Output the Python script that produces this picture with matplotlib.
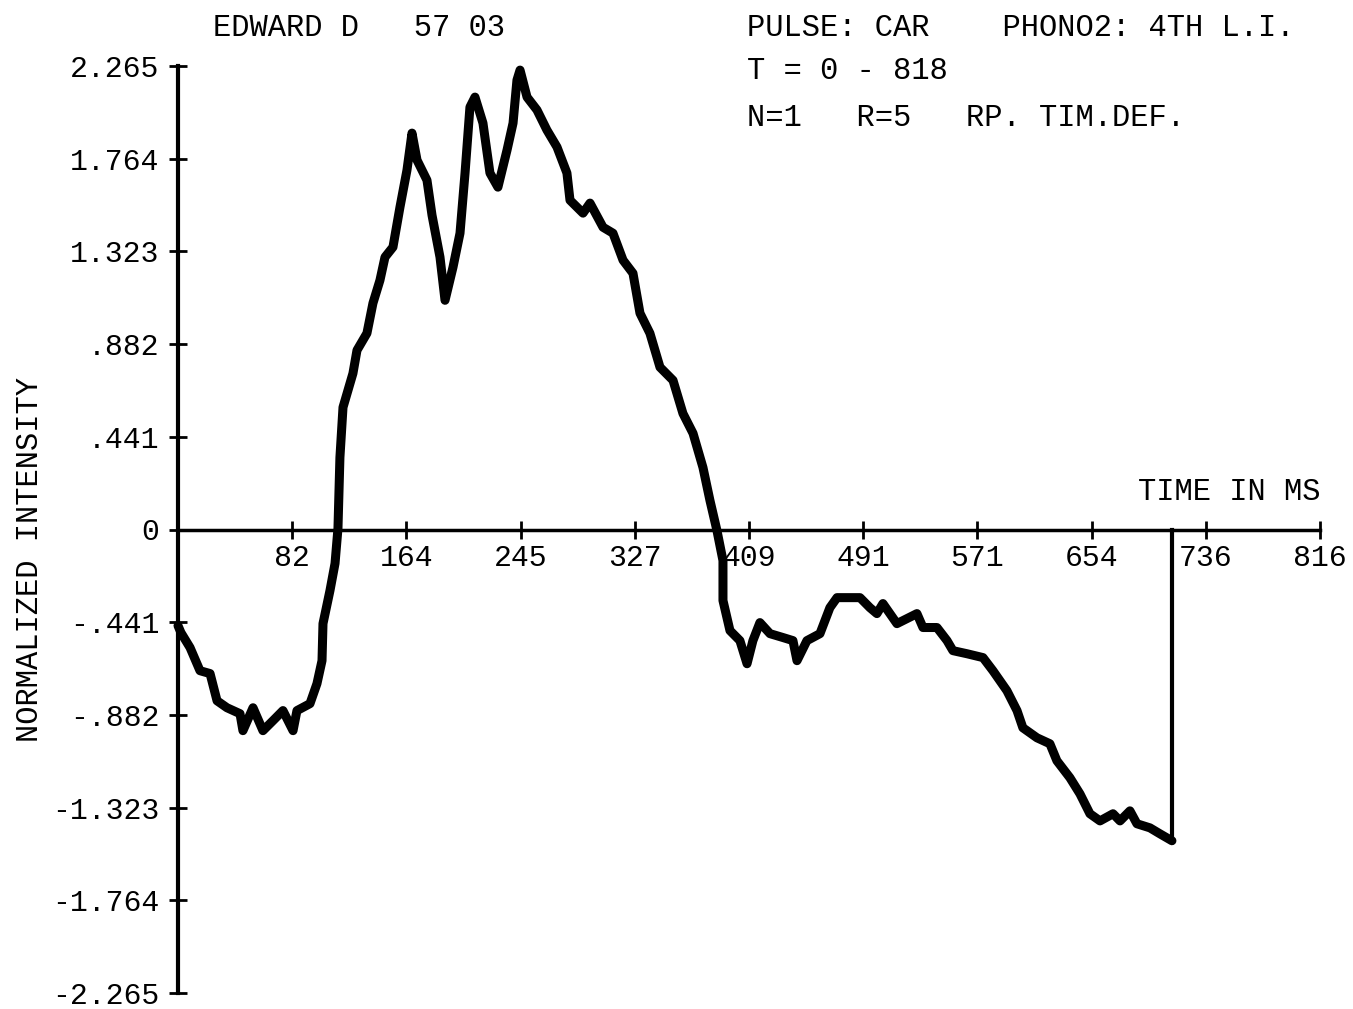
import numpy as np
import matplotlib
matplotlib.use('Agg')
import matplotlib.pyplot as plt

plt.rcParams['font.family'] = ['Liberation Mono', 'DejaVu Sans Mono']

# Trace (time in ms, normalized intensity)
time_ms = [0, 2.1, 8.6, 15.7, 22.9, 27.9, 35.0, 44.3, 46.4, 53.6, 60.7, 67.9, 75.0,
           82.2, 85.0, 94.3, 99.3, 102.9, 103.6, 108.6, 112.2, 114.3, 115.7, 117.9,
           125.0, 127.9, 135.0, 139.3, 144.3, 147.9, 153.6, 158.6, 163.6, 167.2,
           170.8, 177.9, 181.5, 187.2, 190.8, 196.5, 201.5, 205.1, 208.6, 212.2,
           217.9, 222.9, 228.6, 235.1, 239.4, 242.2, 244.4, 249.4, 256.5, 263.6,
           270.8, 277.9, 280.1, 289.4, 294.4, 303.7, 310.8, 318.0, 325.1, 330.1,
           337.2, 344.4, 353.7, 360.8, 368.0, 375.1, 380.1, 385.1, 389.4, 389.4,
           394.4, 401.5, 406.6, 410.8, 415.8, 423.0, 432.3, 439.4, 442.3, 449.4,
           458.7, 465.8, 470.9, 487.3, 494.4, 499.4, 503.7, 508.7, 513.7, 528.0,
           532.3, 542.3, 549.5, 553.7, 563.7, 575.2, 582.3, 592.3, 599.5, 603.7,
           613.8, 623.0, 628.0, 637.3, 644.5, 651.6, 658.8, 668.1, 673.1, 680.2,
           685.2, 694.5, 701.6, 710.2]
intensity = [-0.470, -0.504, -0.577, -0.690, -0.704, -0.837, -0.871, -0.900, -0.983,
             -0.871, -0.983, -0.934, -0.885, -0.983, -0.885, -0.851, -0.753, -0.641,
             -0.460, -0.298, -0.166, 0.005, 0.352, 0.597, 0.763, 0.876, 0.959, 1.106,
             1.218, 1.331, 1.380, 1.575, 1.756, 1.937, 1.805, 1.707, 1.536, 1.331,
             1.120, 1.282, 1.448, 1.742, 2.064, 2.113, 1.986, 1.742, 1.673, 1.854,
             1.986, 2.196, 2.245, 2.113, 2.050, 1.952, 1.869, 1.742, 1.609, 1.546,
             1.595, 1.477, 1.448, 1.316, 1.252, 1.057, 0.959, 0.793, 0.729, 0.567,
             0.470, 0.303, 0.142, -0.005, -0.152, -0.347, -0.494, -0.543, -0.656,
             -0.543, -0.455, -0.509, -0.528, -0.543, -0.641, -0.543, -0.509, -0.382,
             -0.333, -0.333, -0.382, -0.411, -0.362, -0.411, -0.460, -0.411, -0.479,
             -0.479, -0.543, -0.592, -0.607, -0.626, -0.690, -0.788, -0.885, -0.969,
             -1.018, -1.047, -1.130, -1.213, -1.292, -1.389, -1.424, -1.389, -1.424,
             -1.375, -1.438, -1.458, -1.487, -1.521]

x_tick_labels = ['82', '164', '245', '327', '409', '491', '571', '654', '736', '816']
y_tick_labels = ['-2.265', '-1.764', '-1.323', '-.882', '-.441', '0',
                 '.441', '.882', '1.323', '1.764', '2.265']
x_max = 816
y_max = 2.265

fig = plt.figure(figsize=(13.53, 10.09), dpi=100, facecolor='white')
ax = fig.add_axes([178 / 1353, 16 / 1009, 1142 / 1353, 927 / 1009])

ax.plot(time_ms, intensity, color='black', linewidth=6.5, solid_joinstyle='round',
        solid_capstyle='round', clip_on=False)
# end of trace drops back to the axis
ax.plot([time_ms[-1], time_ms[-1]], [intensity[-1], 0], color='black', linewidth=3,
        clip_on=False)

ax.set_xlim(0, x_max)
ax.set_ylim(-y_max, y_max)

ax.spines['top'].set_visible(False)
ax.spines['right'].set_visible(False)
ax.spines['bottom'].set_position(('data', 0))
ax.spines['left'].set_position(('data', 0))
ax.spines['bottom'].set_linewidth(2.5)
ax.spines['left'].set_linewidth(3)

ax.set_xticks(np.linspace(0, x_max, 11)[1:])
ax.set_xticklabels(x_tick_labels)
ax.set_yticks(np.linspace(-y_max, y_max, 11))
ax.set_yticklabels(y_tick_labels)
ax.tick_params(axis='both', direction='inout', length=13, width=2, labelsize=21.5)
ax.tick_params(axis='x', pad=4)
ax.tick_params(axis='y', pad=7)

ax.text(1.0, 0.54, 'TIME IN MS', transform=ax.transAxes, ha='right', va='center',
        fontsize=22)

fig.text(30 / 1353, 1 - 560 / 1009, 'NORMALIZED INTENSITY', rotation=90,
         ha='center', va='center', fontsize=22)
fig.text(213 / 1353, 1 - 28 / 1009, 'EDWARD D   57 03', ha='left', va='center',
         fontsize=22)
fig.text(747 / 1353, 1 - 28 / 1009, 'PULSE: CAR    PHONO2: 4TH L.I.', ha='left',
         va='center', fontsize=22)
fig.text(747 / 1353, 1 - 71 / 1009, 'T = 0 - 818', ha='left', va='center',
         fontsize=22)
fig.text(747 / 1353, 1 - 118 / 1009, 'N=1   R=5   RP. TIM.DEF.', ha='left',
         va='center', fontsize=22)

plt.savefig('out.png', dpi=100, facecolor='white')
